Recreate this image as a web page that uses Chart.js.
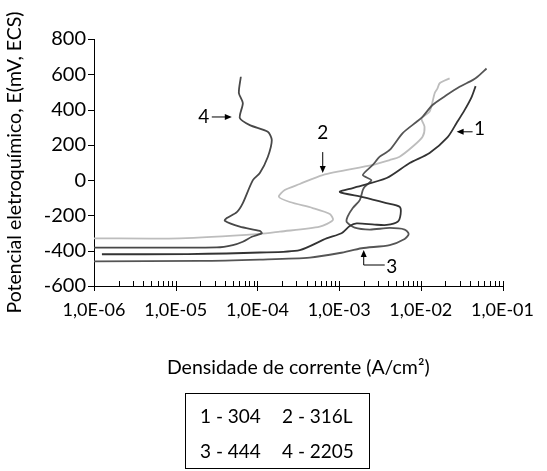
<!DOCTYPE html>
<html>
<head>
<meta charset="utf-8">
<script src="https://cdn.jsdelivr.net/npm/chart.js@4/dist/chart.umd.min.js"></script>
<style>
  html, body { margin: 0; padding: 0; background: #fff; }
</style>
</head>
<body>
<canvas id="canvas" width="547" height="471"></canvas>
<script>
/* global Chart */

// Polarisation curves: current density (A/cm2) and potential (mV, ECS)
const current304 = [1.25e-6, 1.41e-5, 1.07e-4, 3.3e-4, 7.0e-4, 1.07e-3, 1.35e-3, 1.64e-3, 2.72e-3, 3.82e-3,
  5.2e-3, 5.66e-3, 5.5e-3, 3.78e-3, 1.95e-3, 1.02e-3, 1.47e-3, 3.82e-3, 7.3e-3, 1.28e-2,
  2.13e-2, 2.74e-2, 3.43e-2, 4.18e-2, 4.68e-2];
const potential304 = [-420, -419, -410, -396, -330, -301, -260, -245, -252, -254,
  -236, -192, -151, -130, -96, -67, -45, 12, 97, 154,
  244, 324, 397, 471, 533];

const current316L = [1.0e-6, 1.12e-5, 1.07e-4, 1.88e-4, 5.8e-4, 8.4e-4, 7.7e-4, 4.75e-4, 2.49e-4, 1.83e-4,
  2.16e-4, 3.3e-4, 6.3e-4, 2.58e-3, 4.16e-3, 5.5e-3, 7.9e-3, 1.05e-2, 1.11e-2, 1.02e-2,
  1.28e-2, 1.48e-2, 1.6e-2, 1.7e-2, 2.25e-2];
const potential316L = [-330, -330, -305, -292, -264, -226, -192, -158, -124, -94,
  -56, -22, 29, 86, 114, 133, 189, 246, 303, 350,
  388, 494, 520, 549, 577];

const current444 = [1.0e-6, 1.98e-5, 1.07e-4, 4.38e-4, 1.02e-3, 1.89e-3, 4.16e-3, 6.34e-3, 7.1e-3, 6.34e-3,
  4.16e-3, 2.37e-3, 1.55e-3, 1.24e-3, 1.27e-3, 1.47e-3, 1.79e-3, 1.95e-3, 2.06e-3, 2.48e-3,
  1.95e-3, 2.58e-3, 3.14e-3, 4.16e-3, 6.0e-3, 8.9e-3, 1.05e-2, 1.39e-2, 2.07e-2, 2.98e-2,
  4.3e-2, 4.94e-2, 6.37e-2];
const potential444 = [-460, -458, -450, -439, -413, -386, -368, -334, -305, -280,
  -271, -280, -269, -237, -207, -158, -113, -56, -37, 0,
  29, 86, 133, 171, 267, 331, 359, 426, 482, 529,
  567, 586, 633];

const current2205 = [1.0e-6, 3.19e-5, 5.0e-5, 6.63e-5, 8.55e-5, 1.13e-4, 1.07e-4, 6.09e-5, 3.99e-5, 4.22e-5,
  5.6e-5, 6.63e-5, 8.8e-5, 1.07e-4, 1.34e-4, 1.5e-4, 1.34e-4, 8.07e-5, 6.09e-5, 6.63e-5,
  5.93e-5, 6.27e-5];
const potential2205 = [-383, -381, -368, -349, -321, -301, -288, -264, -230, -215,
  -181, -130, 0, 40, 131, 227, 274, 312, 352, 437,
  494, 586];

// Axis ticks and labels
const xTickValues = [1e-6, 1e-5, 1e-4, 1e-3, 1e-2, 1e-1];
const xTickLabels = ["1,0E-06", "1,0E-05", "1,0E-04", "1,0E-03", "1,0E-02", "1,0E-01"];

// Curve markers (number + arrow tip on the curve)
const markerLabels = ["1", "2", "3", "4"];
const markerCurrent = [2.74e-2, 6.3e-4, 2.0e-3, 4.86e-5];
const markerPotential = [274, 40, -396, 358];

// Key box text
const keyLines = [["1 - 304", "2 - 316L"], ["3 - 444", "4 - 2205"]];

const FONT = "Lato, 'Open Sans', sans-serif";

function toPoints(xs, ys) {
  return xs.map((x, i) => ({ x: x, y: ys[i] }));
}

function arrowHead(ctx, x, y, dx, dy) {
  // filled triangle pointing in direction (dx, dy)
  const len = 7;
  const half = 3;
  ctx.beginPath();
  ctx.moveTo(x, y);
  ctx.lineTo(x - dx * len - dy * half, y - dy * len + dx * half);
  ctx.lineTo(x - dx * len + dy * half, y - dy * len - dx * half);
  ctx.closePath();
  ctx.fill();
}

const extrasPlugin = {
  id: "extras",
  afterDraw(chart) {
    const ctx = chart.ctx;
    const xs = chart.scales.x;
    const ys = chart.scales.y;
    const base = chart.chartArea.bottom;
    const left = chart.chartArea.left;

    ctx.save();
    ctx.strokeStyle = "#000";
    ctx.fillStyle = "#000";
    ctx.lineWidth = 1;

    // log ticks: majors cross the axis, minors sit above it
    ctx.beginPath();
    xTickValues.forEach((v, i) => {
      const px = Math.round(xs.getPixelForValue(v)) + 0.5;
      ctx.moveTo(px, base - 5);
      ctx.lineTo(px, base + 5);
      if (i < xTickValues.length - 1) {
        for (let m = 2; m < 10; m++) {
          const mx = Math.round(xs.getPixelForValue(v * m)) + 0.5;
          ctx.moveTo(mx, base - 5);
          ctx.lineTo(mx, base);
        }
      }
    });
    ys.ticks.forEach((t) => {
      const py = Math.round(ys.getPixelForValue(t.value)) + 0.5;
      ctx.moveTo(left - 6, py);
      ctx.lineTo(left, py);
    });
    ctx.stroke();

    // curve markers
    ctx.font = "19px " + FONT;
    ctx.textBaseline = "middle";
    ctx.textAlign = "center";
    markerLabels.forEach((label, i) => {
      const tx = xs.getPixelForValue(markerCurrent[i]);
      const ty = ys.getPixelForValue(markerPotential[i]);
      ctx.beginPath();
      if (label === "1") {
        ctx.moveTo(tx + 16, ty);
        ctx.lineTo(tx + 4, ty);
        ctx.stroke();
        arrowHead(ctx, tx, ty, -1, 0);
        ctx.fillText(label, tx + 23, ty - 3);
      } else if (label === "2") {
        ctx.moveTo(tx, ty - 21);
        ctx.lineTo(tx, ty - 4);
        ctx.stroke();
        arrowHead(ctx, tx, ty, 0, 1);
        ctx.fillText(label, tx, ty - 40);
      } else if (label === "3") {
        ctx.moveTo(tx, ty + 4);
        ctx.lineTo(tx, ty + 15);
        ctx.lineTo(tx + 21, ty + 15);
        ctx.stroke();
        arrowHead(ctx, tx, ty, 0, -1);
        ctx.fillText(label, tx + 28, ty + 17);
      } else {
        ctx.moveTo(tx - 20, ty);
        ctx.lineTo(tx - 4, ty);
        ctx.stroke();
        arrowHead(ctx, tx, ty, 1, 0);
        ctx.fillText(label, tx - 28, ty);
      }
    });

    // key box under the axis title
    ctx.strokeRect(185.5, 393.5, 184, 75);
    ctx.textAlign = "left";
    keyLines.forEach((row, r) => {
      row.forEach((txt, c) => {
        ctx.fillText(txt, c === 0 ? 200 : 282, 417 + r * 35);
      });
    });
    ctx.restore();
  }
};

function buildConfig() {
  const lineStyle = { showLine: true, pointRadius: 0, borderWidth: 1.8, tension: 0.25, fill: false };
  return {
    type: "scatter",
    data: {
      datasets: [
        Object.assign({ label: "1 - 304", data: toPoints(current304, potential304), borderColor: "#333333" }, lineStyle),
        Object.assign({ label: "3 - 444", data: toPoints(current444, potential444), borderColor: "#555555" }, lineStyle),
        Object.assign({ label: "4 - 2205", data: toPoints(current2205, potential2205), borderColor: "#484848" }, lineStyle),
        Object.assign({ label: "2 - 316L", data: toPoints(current316L, potential316L), borderColor: "#bdbdbd" }, lineStyle)
      ]
    },
    options: {
      responsive: false,
      animation: false,
      devicePixelRatio: 1,
      layout: { padding: { left: 0, top: 39, right: 44, bottom: 91 } },
      plugins: { legend: { display: false }, tooltip: { enabled: false } },
      scales: {
        x: {
          type: "logarithmic",
          min: 1e-6,
          max: 1e-1,
          grid: { display: false, drawTicks: false },
          border: { display: true, color: "#000", width: 1 },
          afterBuildTicks: (scale) => {
            scale.ticks = xTickValues.map((v) => ({ value: v }));
          },
          afterFit: (scale) => {
            scale.height = 94;
          },
          ticks: {
            autoSkip: false,
            maxRotation: 0,
            padding: 13,
            color: "#000",
            font: { family: FONT, size: 18 },
            callback: (value, index) => xTickLabels[index]
          },
          title: {
            display: true,
            text: "Densidade de corrente (A/cm²)",
            color: "#000",
            font: { family: FONT, size: 19.5 },
            padding: { top: 0, bottom: 1 }
          }
        },
        y: {
          min: -600,
          max: 800,
          grid: { display: false, drawTicks: false },
          border: { display: true, color: "#000", width: 1 },
          afterFit: (scale) => {
            scale.width = 94;
          },
          ticks: {
            stepSize: 200,
            padding: 8,
            color: "#000",
            font: { family: FONT, size: 20 }
          },
          title: {
            display: true,
            text: "Potencial eletroquímico, E(mV, ECS)",
            color: "#000",
            font: { family: FONT, size: 19.5 },
            padding: { top: 3, bottom: 0 }
          }
        }
      }
    },
    plugins: [extrasPlugin]
  };
}

function publishChart(config) {
  const ctx = document.getElementById("canvas").getContext("2d");
  window.myChart = new Chart(ctx, config);
}

publishChart(buildConfig());
</script>
</body>
</html>
